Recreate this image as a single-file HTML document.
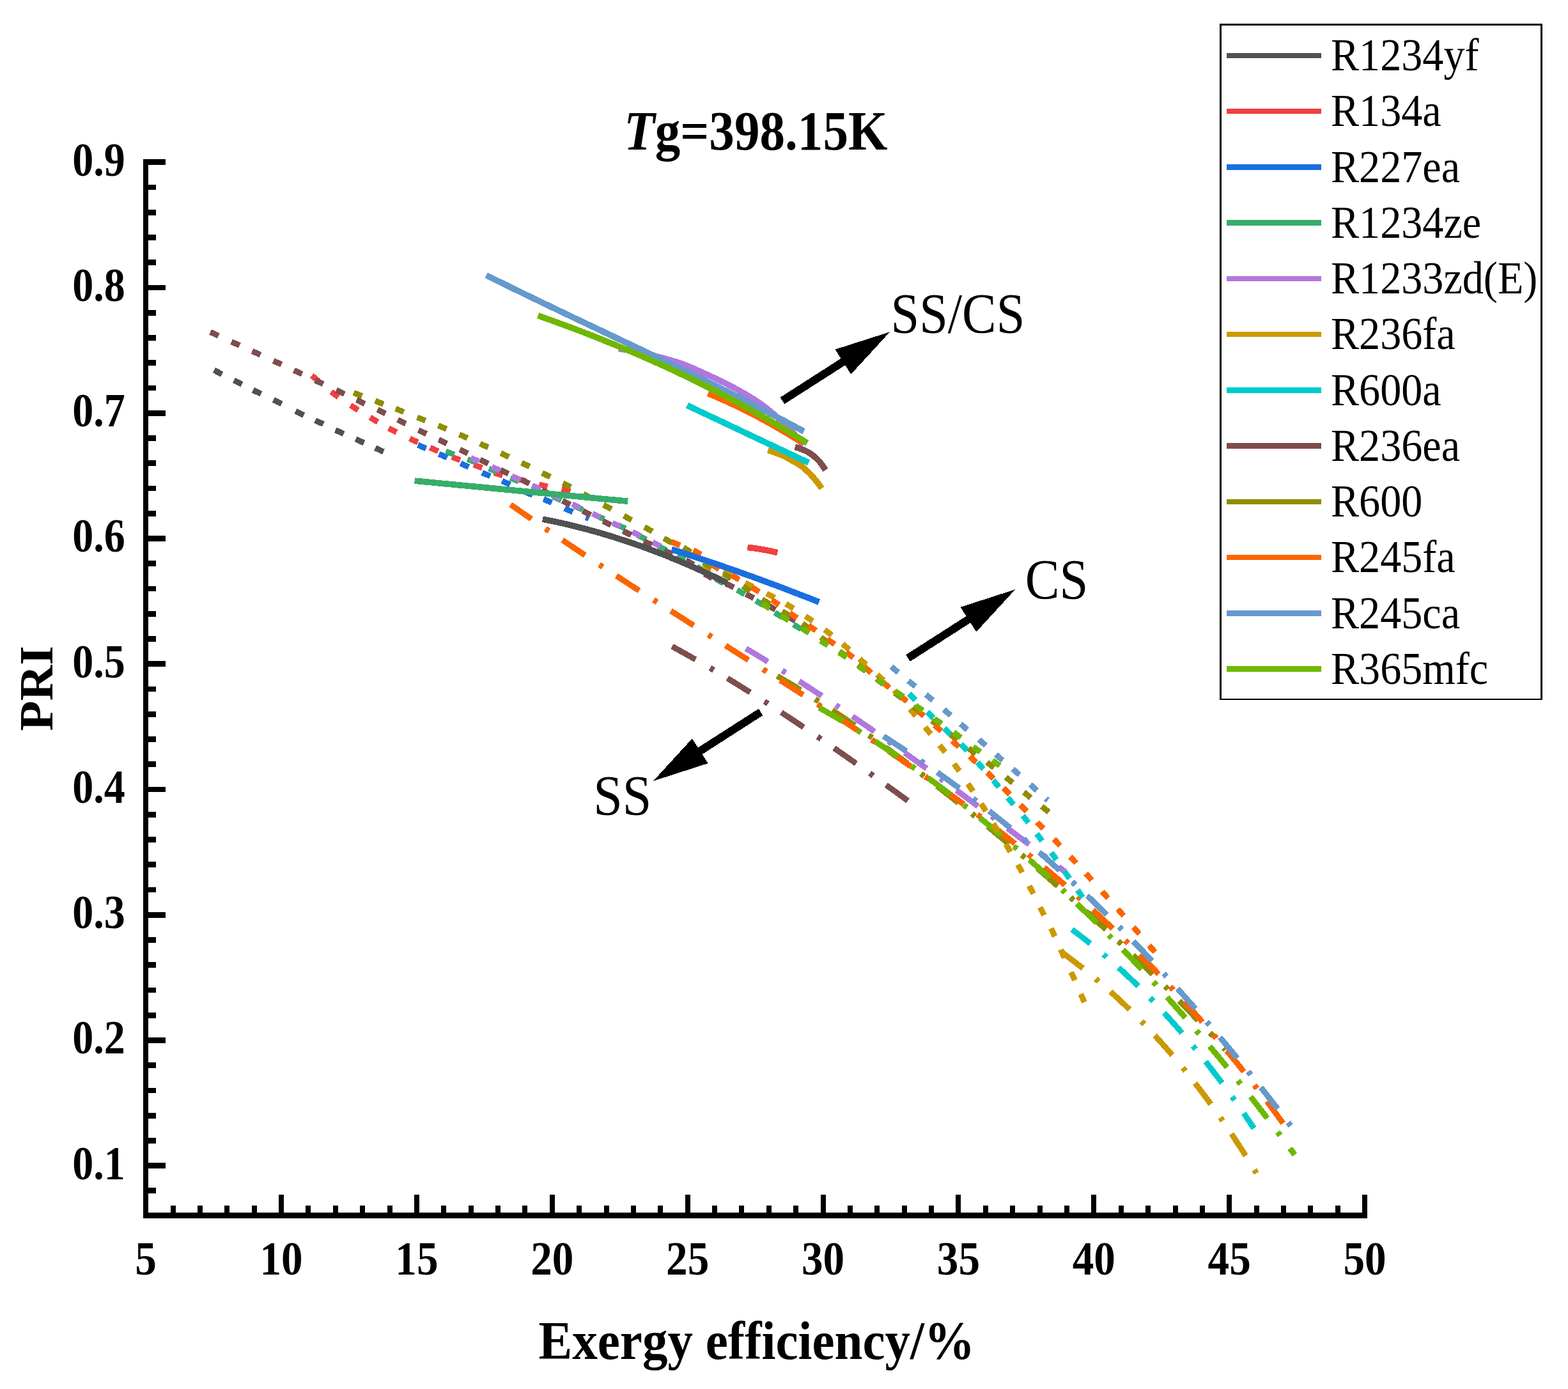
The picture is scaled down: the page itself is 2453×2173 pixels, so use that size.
<!DOCTYPE html>
<html lang="en"><head><meta charset="utf-8"><title>PRI vs Exergy efficiency</title>
<style>html,body{margin:0;padding:0;background:#fff}svg{display:block}text{font-family:"Liberation Serif","Times New Roman",serif;fill:#000}.b{font-weight:bold}</style>
</head><body>
<svg width="2453" height="2173" viewBox="0 0 2453 2173">
<rect width="2453" height="2173" fill="#fff"/>
<g id="data" transform="scale(1.000 1)" shape-rendering="crispEdges">
<g id="ss">
<path d="M1167.0 1014.6L1176.8 1020.4L1186.6 1026.3L1196.4 1032.2L1206.2 1038.2L1216.0 1044.2L1225.8 1050.3L1235.7 1056.4L1245.5 1062.6L1255.3 1068.9L1265.1 1075.2L1274.9 1081.6L1284.7 1088.0L1294.5 1094.5L1304.3 1101.0L1314.1 1107.5L1323.9 1114.1L1333.7 1120.8L1343.5 1127.5L1353.3 1134.2L1363.2 1141.0L1373.0 1147.8L1382.8 1154.6L1392.6 1161.5L1402.4 1168.5L1412.2 1175.4L1422.0 1182.4L1431.8 1189.4L1441.6 1196.5L1451.4 1203.6L1461.2 1210.7L1471.0 1217.8L1480.9 1225.0L1490.7 1232.2L1500.5 1239.4L1510.3 1246.6L1520.1 1253.9L1529.9 1261.2L1539.7 1268.5L1549.5 1275.8L1559.3 1283.1L1569.1 1290.5L1578.9 1297.8L1588.7 1305.2L1598.5 1312.6L1608.4 1320.0L1618.2 1327.4L1628.0 1334.8L1637.8 1342.2L1647.6 1349.7L1657.4 1357.1L1667.2 1364.5" fill="none" stroke="#B177DE" stroke-width="9.0" stroke-dasharray="41.96 26.40 6.50 24.92" stroke-dashoffset="2.0" stroke-linejoin="round"/>
<path d="M1662.3 1490.7L1672.1 1497.9L1681.9 1505.4L1691.7 1513.0L1701.4 1520.8L1711.2 1528.9L1721.0 1537.2L1730.8 1545.7L1740.6 1554.4L1750.4 1563.4L1760.1 1572.6L1769.9 1582.0L1779.7 1591.8L1789.5 1601.8L1799.3 1612.0L1809.1 1622.6L1818.8 1633.4L1828.6 1644.5L1838.4 1656.0L1848.2 1667.7L1858.0 1679.8L1867.8 1692.2L1877.5 1704.9L1887.3 1717.9L1897.1 1731.3L1906.9 1745.1L1916.7 1759.2L1926.5 1773.7L1936.2 1788.5L1946.0 1803.7L1955.8 1819.3L1965.6 1835.4" fill="none" stroke="#CC9900" stroke-width="9.0" stroke-dasharray="41.02 25.81 6.36 24.36" stroke-dashoffset="1.0" stroke-linejoin="round"/>
<path d="M1677.0 1454.2L1686.8 1461.5L1696.6 1469.0L1706.5 1476.8L1716.3 1484.8L1726.1 1493.0L1735.9 1501.4L1745.7 1510.1L1755.5 1518.9L1765.4 1528.1L1775.2 1537.4L1785.0 1547.0L1794.8 1556.9L1804.6 1566.9L1814.4 1577.3L1824.3 1587.9L1834.1 1598.8L1843.9 1609.9L1853.7 1621.3L1863.5 1632.9L1873.3 1644.9L1883.2 1657.1L1893.0 1669.6L1902.8 1682.4L1912.6 1695.4L1922.4 1708.8L1932.2 1722.5L1942.1 1736.4L1951.9 1750.7L1961.7 1765.3" fill="none" stroke="#00CBCC" stroke-width="9.0" stroke-dasharray="42.17 26.53 6.53 25.05" stroke-dashoffset="6.0" stroke-linejoin="round"/>
<path d="M1051.5 1011.3L1061.3 1016.7L1071.0 1022.1L1080.8 1027.6L1090.5 1033.1L1100.3 1038.7L1110.0 1044.4L1119.8 1050.2L1129.6 1056.0L1139.3 1061.9L1149.1 1067.9L1158.8 1073.9L1168.6 1080.0L1178.4 1086.1L1188.1 1092.3L1197.9 1098.6L1207.6 1104.9L1217.4 1111.2L1227.1 1117.7L1236.9 1124.1L1246.7 1130.6L1256.4 1137.2L1266.2 1143.8L1275.9 1150.4L1285.7 1157.1L1295.4 1163.8L1305.2 1170.6L1315.0 1177.4L1324.7 1184.2L1334.5 1191.1L1344.2 1198.0L1354.0 1204.9L1363.8 1211.9L1373.5 1218.9L1383.3 1225.9L1393.0 1233.0L1402.8 1240.0L1412.5 1247.1L1422.3 1254.2" fill="none" stroke="#7D4E4E" stroke-width="9.0" stroke-dasharray="41.96 26.40 6.50 24.92" stroke-dashoffset="0.0" stroke-linejoin="round"/>
<path d="M1215.9 1057.6L1225.8 1063.4L1235.6 1069.2L1245.5 1075.1L1255.4 1081.2L1265.3 1087.3L1275.1 1093.6L1285.0 1099.9L1294.9 1106.4L1304.8 1112.9L1314.6 1119.5L1324.5 1126.2L1334.4 1132.9L1344.3 1139.8L1354.1 1146.7L1364.0 1153.7L1373.9 1160.8L1383.8 1167.9L1393.6 1175.1L1403.5 1182.4L1413.4 1189.7L1423.3 1197.1L1433.1 1204.5L1443.0 1212.1L1452.9 1219.6L1462.8 1227.3L1472.6 1234.9L1482.5 1242.7L1492.4 1250.5L1502.3 1258.3L1512.1 1266.2L1522.0 1274.2L1531.9 1282.2L1541.8 1290.2L1551.6 1298.3L1561.5 1306.5L1571.4 1314.7L1581.3 1323.0L1591.1 1331.3L1601.0 1339.7L1610.9 1348.1L1620.8 1356.5L1630.6 1365.1L1640.5 1373.7L1650.4 1382.3L1660.3 1391.0L1670.1 1399.7L1680.0 1408.5L1689.9 1417.4L1699.8 1426.3L1709.6 1435.3L1719.5 1444.4L1729.4 1453.5L1739.3 1462.7L1749.1 1471.9L1759.0 1481.3L1768.9 1490.7L1778.8 1500.1L1788.6 1509.7L1798.5 1519.3L1808.4 1529.0L1818.3 1538.8L1828.1 1548.7L1838.0 1558.7L1847.9 1568.8L1857.8 1579.0L1867.6 1589.3L1877.5 1599.6L1887.4 1610.1L1897.3 1620.7L1907.1 1631.4L1917.0 1642.3" fill="none" stroke="#8E8E00" stroke-width="9.0" stroke-dasharray="42.60 26.80 6.60 25.30" stroke-dashoffset="0.0" stroke-linejoin="round"/>
<path d="M798.7 789.4L808.7 796.3L818.7 803.2L828.7 810.1L838.7 817.0L848.7 823.8L858.7 830.6L868.6 837.4L878.6 844.1L888.6 850.8L898.6 857.5L908.6 864.2L918.6 870.8L928.6 877.4L938.6 884.0L948.6 890.6L958.6 897.1L968.6 903.6L978.6 910.1L988.5 916.6L998.5 923.0L1008.5 929.5L1018.5 935.9L1028.5 942.3L1038.5 948.7L1048.5 955.1L1058.5 961.4L1068.5 967.8L1078.5 974.2L1088.5 980.5L1098.5 986.8L1108.4 993.2L1118.4 999.5L1128.4 1005.8L1138.4 1012.1L1148.4 1018.4L1158.4 1024.8L1168.4 1031.1L1178.4 1037.4L1188.4 1043.8L1198.4 1050.1L1208.4 1056.4L1218.4 1062.8L1228.3 1069.2L1238.3 1075.5L1248.3 1081.9L1258.3 1088.3L1268.3 1094.8L1278.3 1101.2L1288.3 1107.7L1298.3 1114.2L1308.3 1120.7L1318.3 1127.2L1328.3 1133.8L1338.3 1140.4L1348.2 1147.0L1358.2 1153.7L1368.2 1160.3L1378.2 1167.1L1388.2 1173.8L1398.2 1180.6L1408.2 1187.5L1418.2 1194.4L1428.2 1201.3L1438.2 1208.3L1448.2 1215.3L1458.2 1222.4L1468.1 1229.5L1478.1 1236.7L1488.1 1243.9L1498.1 1251.2L1508.1 1258.6L1518.1 1266.0L1528.1 1273.5L1538.1 1281.0L1548.1 1288.7L1558.1 1296.4L1568.1 1304.1L1578.1 1312.0L1588.0 1319.9L1598.0 1327.9L1608.0 1336.0L1618.0 1344.2L1628.0 1352.5L1638.0 1360.8L1648.0 1369.3L1658.0 1377.8L1668.0 1386.5L1678.0 1395.2L1688.0 1404.0L1698.0 1413.0L1707.9 1422.1L1717.9 1431.2L1727.9 1440.5L1737.9 1449.9L1747.9 1459.4L1757.9 1469.1L1767.9 1478.8L1777.9 1488.7L1787.9 1498.7L1797.9 1508.9L1807.9 1519.2L1817.9 1529.6L1827.8 1540.1L1837.8 1550.9L1847.8 1561.7L1857.8 1572.7L1867.8 1583.9L1877.8 1595.2L1887.8 1606.7L1897.8 1618.3L1907.8 1630.1L1917.8 1642.1L1927.8 1654.2L1937.8 1666.5L1947.7 1679.0L1957.7 1691.7L1967.7 1704.5L1977.7 1717.6L1987.7 1730.8L1997.7 1744.2L2007.7 1757.9" fill="none" stroke="#FB6501" stroke-width="9.0" stroke-dasharray="42.60 26.80 6.60 25.30" stroke-dashoffset="3.0" stroke-linejoin="round"/>
<path d="M1382.2 1151.8L1392.2 1158.2L1402.1 1164.7L1412.1 1171.2L1422.0 1177.8L1432.0 1184.5L1441.9 1191.3L1451.9 1198.2L1461.9 1205.2L1471.8 1212.2L1481.8 1219.3L1491.7 1226.6L1501.7 1233.9L1511.6 1241.3L1521.6 1248.8L1531.5 1256.4L1541.5 1264.1L1551.5 1271.9L1561.4 1279.8L1571.4 1287.8L1581.3 1295.9L1591.3 1304.1L1601.2 1312.5L1611.2 1320.9L1621.2 1329.4L1631.1 1338.0L1641.1 1346.7L1651.0 1355.6L1661.0 1364.5L1670.9 1373.6L1680.9 1382.7L1690.8 1392.0L1700.8 1401.4L1710.8 1410.8L1720.7 1420.4L1730.7 1430.2L1740.6 1440.0L1750.6 1449.9L1760.5 1460.0L1770.5 1470.1L1780.5 1480.4L1790.4 1490.8L1800.4 1501.3L1810.3 1511.9L1820.3 1522.6L1830.2 1533.5L1840.2 1544.5L1850.1 1555.5L1860.1 1566.7L1870.1 1578.0L1880.0 1589.5L1890.0 1601.0L1899.9 1612.7L1909.9 1624.4L1919.8 1636.3L1929.8 1648.3L1939.8 1660.4L1949.7 1672.7L1959.7 1685.0L1969.6 1697.5L1979.6 1710.1L1989.5 1722.7L1999.5 1735.5L2009.4 1748.5L2019.4 1761.5" fill="none" stroke="#6699CC" stroke-width="9.0" stroke-dasharray="42.60 26.80 6.60 25.30" stroke-dashoffset="0.0" stroke-linejoin="round"/>
<path d="M1281.5 1107.1L1291.4 1112.7L1301.3 1118.4L1311.3 1124.2L1321.2 1130.1L1331.1 1136.1L1341.0 1142.2L1350.9 1148.4L1360.9 1154.7L1370.8 1161.1L1380.7 1167.6L1390.6 1174.2L1400.5 1180.9L1410.5 1187.7L1420.4 1194.5L1430.3 1201.5L1440.2 1208.6L1450.1 1215.8L1460.1 1223.0L1470.0 1230.4L1479.9 1237.9L1489.8 1245.4L1499.7 1253.1L1509.7 1260.8L1519.6 1268.7L1529.5 1276.6L1539.4 1284.7L1549.3 1292.8L1559.3 1301.0L1569.2 1309.4L1579.1 1317.8L1589.0 1326.3L1598.9 1334.9L1608.9 1343.7L1618.8 1352.5L1628.7 1361.4L1638.6 1370.4L1648.5 1379.5L1658.5 1388.8L1668.4 1398.1L1678.3 1407.5L1688.2 1417.0L1698.1 1426.7L1708.1 1436.4L1718.0 1446.2L1727.9 1456.2L1737.8 1466.2L1747.7 1476.3L1757.7 1486.6L1767.6 1497.0L1777.5 1507.4L1787.4 1518.0L1797.3 1528.7L1807.3 1539.5L1817.2 1550.4L1827.1 1561.4L1837.0 1572.5L1846.9 1583.8L1856.9 1595.1L1866.8 1606.6L1876.7 1618.2L1886.6 1629.9L1896.5 1641.7L1906.5 1653.7L1916.4 1665.7L1926.3 1677.9L1936.2 1690.2L1946.1 1702.6L1956.1 1715.2L1966.0 1727.9L1975.9 1740.7L1985.8 1753.6L1995.7 1766.7L2005.7 1779.9L2015.6 1793.3L2025.5 1806.7" fill="none" stroke="#6FB802" stroke-width="9.0" stroke-dasharray="42.73 26.88 6.62 25.38" stroke-dashoffset="0.0" stroke-linejoin="round"/>
</g>
<g id="cs">
<path d="M334.9 579.1L347.3 585.5M366.0 595.0L378.4 601.4M395.9 610.2L408.5 616.4M427.8 625.6L440.4 631.8M462.5 643.2L475.1 649.4M493.1 657.5L505.7 663.5M524.8 672.8L537.6 678.6M556.6 687.0L569.4 692.8M587.1 700.9L599.9 706.7" fill="none" stroke="#515151" stroke-width="9.0"/>
<path d="M487.8 587.6L498.6 596.4M518.2 612.8L529.4 621.2M548.5 634.0L560.3 641.6M579.0 653.0L591.0 660.2M608.1 670.0L620.5 676.4M641.0 686.2L653.8 692.0M672.8 700.3L685.6 705.9M706.9 714.8L719.9 719.8M741.1 727.1L754.3 731.9M772.8 739.6L786.2 743.8M808.0 748.9L821.5 752.4M843.2 758.0L856.8 761.2M878.6 765.5L892.4 768.3" fill="none" stroke="#F14040" stroke-width="9.0"/>
<path d="M653.7 696.1L666.5 701.7M686.7 710.3L699.5 715.9M720.5 725.0L733.3 730.6M754.2 739.5L767.0 744.9M785.3 752.3L798.1 758.1M820.4 769.0L833.2 774.6M850.2 780.9L863.2 786.3M883.3 795.4L896.1 801.0M916.5 809.5L921.1 811.5" fill="none" stroke="#1A6FDF" stroke-width="9.0"/>
<path d="M697.5 706.3L710.7 711.1M731.4 718.4L744.4 723.6M765.0 732.9L777.8 738.5M798.5 747.6L811.3 753.2M831.9 762.3L844.8 768.0M865.4 777.0L878.3 782.7M898.9 791.8L911.7 797.4M932.4 806.5L945.2 812.1M966.0 821.0L978.6 827.0M998.4 837.5L1010.8 843.9M1029.6 854.2L1042.2 860.4M1060.1 867.6L1072.3 874.4M1090.2 886.3L1101.9 893.9M1119.8 905.7L1132.0 912.7M1153.1 923.0L1165.3 929.8M1182.5 939.8L1194.5 947.0M1212.0 958.3L1223.8 965.7M1241.4 976.9L1253.2 984.3" fill="none" stroke="#37AD6B" stroke-width="9.0"/>
<path d="M736.4 716.5L749.2 721.9M769.4 730.4L782.2 736.0M800.9 744.9L813.6 750.8M832.4 759.5L845.0 765.5M863.8 774.2L876.5 780.1M895.3 788.8L907.9 794.8M926.7 803.5L939.4 809.4M958.1 818.2L970.9 824.0M989.5 832.4L1002.1 838.4M1020.9 848.2L1033.3 854.6" fill="none" stroke="#B177DE" stroke-width="9.0"/>
<path d="M1099.6 885.5L1113.0 889.7M1131.2 894.7L1144.2 900.1M1165.7 911.8L1178.1 918.2M1199.4 928.5L1211.8 934.9M1229.5 944.7L1241.5 951.9M1260.0 964.0L1271.6 971.8M1290.2 985.2L1301.4 993.6M1318.2 1007.4L1328.8 1016.4M1344.7 1030.6L1355.1 1040.0M1372.2 1055.0L1382.4 1064.6M1398.9 1080.1L1408.5 1090.3M1423.7 1109.2L1432.7 1120.0M1447.3 1137.6L1456.1 1148.4M1469.9 1165.8L1478.5 1176.8M1492.6 1195.0L1500.8 1206.4M1514.3 1226.2L1522.1 1237.8M1535.0 1257.4L1542.4 1269.2M1554.0 1288.4L1561.2 1300.4M1573.6 1320.7L1580.8 1332.7M1592.4 1352.8L1599.2 1365.0M1610.2 1386.0L1616.6 1398.4M1627.2 1419.3L1633.6 1431.7M1644.2 1452.4L1650.2 1465.0M1659.4 1485.6L1665.2 1498.4M1675.7 1520.8L1681.5 1533.6M1690.8 1555.1L1696.4 1567.9" fill="none" stroke="#CC9900" stroke-width="9.0"/>
<path d="M1422.3 1085.2L1432.1 1095.0M1450.6 1113.6L1460.6 1123.4M1477.0 1139.1L1487.0 1148.9M1503.5 1164.4L1513.3 1174.4M1529.3 1192.5L1538.5 1203.1M1553.8 1220.8L1562.8 1231.4M1576.6 1247.9L1585.6 1258.7M1600.2 1276.1L1609.0 1287.1M1621.9 1304.4L1630.3 1315.6M1644.5 1333.8L1652.7 1345.0M1665.2 1363.0L1673.2 1374.4M1685.7 1392.4L1693.7 1403.8" fill="none" stroke="#00CBCC" stroke-width="9.0"/>
<path d="M329.1 519.4L341.9 525.2M362.1 534.6L374.9 540.4M394.6 549.3L407.4 555.1M427.7 564.4L440.5 570.2M460.0 579.3L472.6 585.3M493.1 594.9L505.7 600.9M526.1 610.3L538.7 616.3M557.9 625.7L570.5 631.7M590.4 640.9L603.0 646.9M622.2 656.7L634.8 662.9M654.5 672.6L667.1 678.8M686.3 687.9L698.9 693.9M719.3 703.3L731.9 709.3M751.1 719.1L763.7 725.3M782.9 734.9L795.5 741.1M815.7 750.4L828.3 756.6M847.8 766.8L860.2 773.2M879.8 783.3L892.2 789.7M911.5 799.3L924.1 805.5M943.3 815.2L955.9 821.4M974.8 830.7L987.4 836.9M1007.1 846.5L1019.7 852.5M1039.3 861.2L1052.1 867.0M1073.0 876.2L1085.0 883.4M1102.2 897.8L1114.4 904.8M1135.3 912.9L1147.9 919.1M1166.7 929.4L1179.1 935.8M1200.9 947.0L1213.3 953.6M1232.3 964.5L1244.5 971.3" fill="none" stroke="#7D4E4E" stroke-width="9.0"/>
<path d="M553.2 614.5L566.4 619.5M587.0 627.2L600.0 632.2M618.8 639.3L631.8 644.5M652.6 652.8L665.6 658.0M685.6 665.7L698.6 671.1M718.5 679.7L731.3 685.3M751.0 694.1L763.8 699.9M783.3 709.0L796.1 714.8M816.1 724.0L828.7 730.0M848.2 739.9L860.8 746.1M880.6 755.7L893.0 762.1M912.4 772.7L924.8 779.3M944.2 789.8L956.6 796.4M975.9 806.9L988.1 813.7M1008.3 824.6L1020.5 831.4M1038.5 842.3L1050.9 848.9M1069.0 856.5L1081.0 863.9M1100.4 879.9L1112.2 887.5M1131.7 897.7L1143.7 904.9M1162.2 917.0L1173.8 924.8M1192.4 937.6L1204.2 945.2M1223.6 956.4L1235.6 963.6M1255.2 975.6L1266.8 983.6M1284.3 997.1L1295.5 1005.5M1313.2 1018.8L1324.4 1027.2M1342.1 1040.5L1353.3 1048.9M1371.0 1062.2L1382.2 1070.6M1399.8 1084.0L1411.0 1092.4M1428.7 1105.7L1439.9 1114.1M1457.6 1127.4L1468.8 1135.8M1486.5 1149.1L1497.7 1157.5M1515.4 1170.8L1526.6 1179.2M1544.0 1192.5L1555.0 1201.1M1573.5 1215.9L1584.3 1224.7M1601.8 1239.3L1612.6 1248.1M1629.8 1261.6L1640.8 1270.4" fill="none" stroke="#8E8E00" stroke-width="9.0"/>
<path d="M1050.9 847.9L1063.9 853.1M1084.7 860.6L1096.7 867.6M1113.1 882.9L1124.9 890.5M1144.3 899.8L1156.5 906.8M1175.8 918.6L1187.6 926.0M1207.2 938.5L1218.8 946.3M1235.7 959.0L1247.1 967.0M1265.0 978.5L1276.4 986.5M1294.3 999.9L1305.7 1008.1M1323.8 1020.4L1335.0 1028.8M1352.3 1043.5L1363.1 1052.5M1380.7 1067.1L1391.5 1075.9M1408.1 1088.6L1418.9 1097.4M1434.6 1111.1L1445.2 1120.1M1462.0 1134.4L1472.6 1143.6M1489.5 1158.8L1499.9 1168.2M1516.9 1183.3L1527.3 1192.7M1544.4 1208.6L1554.6 1218.2M1570.0 1233.0L1580.0 1242.8M1596.5 1259.3L1606.3 1269.3M1622.6 1286.4L1632.4 1296.4M1648.7 1312.7L1658.3 1322.9M1674.1 1340.1L1683.7 1350.3M1698.7 1366.5L1708.1 1376.9M1724.1 1394.8L1733.5 1405.2M1748.7 1422.1L1757.9 1432.7M1773.2 1450.5L1782.4 1461.1M1797.6 1478.9L1806.8 1489.5" fill="none" stroke="#FB6501" stroke-width="9.0"/>
<path d="M1394.4 1043.0L1405.2 1052.0M1421.1 1065.2L1432.1 1074.0M1448.6 1086.7L1459.4 1095.5M1476.7 1110.1L1487.3 1119.1M1502.7 1132.5L1513.3 1141.7M1531.5 1157.0L1542.1 1166.2M1557.9 1180.4L1568.5 1189.6M1584.3 1203.0L1594.9 1212.2M1611.8 1227.3L1622.2 1236.7M1636.1 1249.3L1639.1 1251.9" fill="none" stroke="#6699CC" stroke-width="9.0"/>
<path d="M1192.4 944.6L1204.2 952.0M1221.7 963.2L1233.7 970.6M1254.1 982.7L1265.9 990.3M1283.4 1002.2L1295.2 1009.8M1312.8 1020.7L1324.4 1028.5M1343.2 1042.1L1354.6 1050.1M1372.5 1062.7L1384.1 1070.5M1401.8 1082.2L1413.4 1090.2M1432.3 1103.7L1443.7 1111.7M1461.6 1124.3L1473.0 1132.3M1491.9 1145.7L1503.3 1153.9M1522.3 1168.2L1533.7 1176.4M1552.6 1189.7L1564.0 1197.9" fill="none" stroke="#6FB802" stroke-width="9.0"/>
</g>
<g id="sscs">
<path d="M848.9 812.1L858.9 814.1L868.8 816.2L878.8 818.4L888.7 820.7L898.7 823.1L908.6 825.6L918.6 828.2L928.5 830.9L938.5 833.7L948.5 836.7L958.4 839.7L968.4 842.9L978.3 846.1L988.3 849.4L998.2 852.9L1008.2 856.4L1018.1 860.1L1028.1 863.9L1038.0 867.7L1048.0 871.7L1058.0 875.8L1067.9 880.0L1077.9 884.2L1087.8 888.6L1097.8 893.1L1107.7 897.7L1117.7 902.4L1127.6 907.2L1137.6 912.1" fill="none" stroke="#515151" stroke-width="9.6" stroke-linejoin="round"/>
<path d="M1169.4 856.3L1178.8 857.5L1188.2 858.9L1197.5 860.5L1206.9 862.4L1216.3 864.5" fill="none" stroke="#F14040" stroke-width="9.6" stroke-linejoin="round"/>
<path d="M1050.6 859.3L1060.2 862.4L1069.8 865.5L1079.5 868.6L1089.1 871.8L1098.7 875.0L1108.3 878.3L1117.9 881.5L1127.6 884.8L1137.2 888.2L1146.8 891.5L1156.4 894.9L1166.0 898.4L1175.7 901.8L1185.3 905.3L1194.9 908.9L1204.5 912.4L1214.2 916.0L1223.8 919.6L1233.4 923.3L1243.0 927.0L1252.6 930.7L1262.3 934.4L1271.9 938.2L1281.5 942.0" fill="none" stroke="#1A6FDF" stroke-width="9.6" stroke-linejoin="round"/>
<path d="M648.6 752.2L658.4 753.1L668.2 754.1L678.0 755.0L687.8 756.0L697.7 756.9L707.5 757.8L717.3 758.8L727.1 759.7L736.9 760.7L746.7 761.6L756.5 762.5L766.3 763.5L776.2 764.4L786.0 765.4L795.8 766.3L805.6 767.3L815.4 768.2L825.2 769.1L835.0 770.1L844.8 771.0L854.6 772.0L864.5 772.9L874.3 773.9L884.1 774.8L893.9 775.7L903.7 776.7L913.5 777.6L923.3 778.6L933.1 779.5L943.0 780.5L952.8 781.4L962.6 782.3L972.4 783.3L982.2 784.2" fill="none" stroke="#37AD6B" stroke-width="9.6" stroke-linejoin="round"/>
<path d="M967.3 545.4L972.3 546.2L977.3 547.1L982.2 547.9L987.2 548.9L992.2 549.9L997.2 550.9L1002.2 551.9L1007.2 553.0L1012.1 554.1L1017.1 555.3L1022.1 556.5L1027.1 557.7L1032.1 558.9L1037.1 560.2L1042.0 561.6L1047.0 563.0L1052.0 564.5L1057.0 566.0L1062.0 567.6L1067.0 569.3L1071.9 571.1L1076.9 573.1L1081.9 575.2L1086.9 577.3L1091.9 579.6L1096.9 581.9L1101.8 584.2L1106.8 586.4L1111.8 588.7L1116.8 591.0L1121.8 593.4L1126.7 595.8L1131.7 598.2L1136.7 600.7L1141.7 603.3L1146.7 605.9L1151.7 608.5L1156.6 611.3L1161.6 614.1L1166.6 616.9L1171.6 619.9L1176.6 623.0L1181.6 626.1L1186.5 629.4L1191.5 632.9L1196.5 636.6L1201.5 640.5L1206.5 644.6L1211.5 648.9L1216.4 653.3L1221.4 657.9L1226.4 662.5L1231.4 667.4L1236.4 672.4L1241.4 677.8L1246.3 683.6L1251.3 690.1L1256.3 697.1" fill="none" stroke="#B177DE" stroke-width="9.6" stroke-linejoin="round"/>
<path d="M1201.5 704.2L1206.4 705.9L1211.4 707.6L1216.3 709.5L1221.3 711.3L1226.2 713.3L1231.1 715.9L1236.1 718.8L1241.0 721.5L1246.0 724.3L1250.9 727.3L1255.9 730.9L1260.8 735.1L1265.7 739.8L1270.7 745.0L1275.6 750.7L1280.6 757.1L1285.5 764.0" fill="none" stroke="#CC9900" stroke-width="9.6" stroke-linejoin="round"/>
<path d="M1075.1 634.2L1085.1 639.0L1095.1 643.7L1105.1 648.4L1115.1 653.1L1125.1 657.8L1135.1 662.5L1145.1 667.3L1155.1 672.0L1165.1 676.7L1175.0 681.4L1185.0 686.1L1195.0 690.8L1205.0 695.6L1215.0 700.3L1225.0 705.0L1235.0 709.7L1245.0 714.4L1255.0 719.1L1265.0 723.9" fill="none" stroke="#00CBCC" stroke-width="9.6" stroke-linejoin="round"/>
<path d="M1243.7 699.4L1248.5 700.7L1253.2 702.4L1258.0 704.4L1262.8 706.7L1267.6 709.5L1272.3 712.9L1277.1 717.0L1281.9 722.0L1286.6 728.1L1291.4 735.4" fill="none" stroke="#7D4E4E" stroke-width="9.6" stroke-linejoin="round"/>
<path d="M1107.6 615.6L1117.5 619.7L1127.3 623.9L1137.2 628.3L1147.0 632.9L1156.9 637.6L1166.7 642.4L1176.6 647.4L1186.4 652.6L1196.3 657.9L1206.1 663.4L1216.0 669.0L1225.8 674.7L1235.7 680.6L1245.5 686.7L1255.4 692.9" fill="none" stroke="#FB6501" stroke-width="9.6" stroke-linejoin="round"/>
<path d="M760.8 430.6L770.7 435.5L780.7 440.5L790.6 445.3L800.5 450.2L810.5 455.1L820.4 459.9L830.3 464.7L840.3 469.5L850.2 474.3L860.1 479.1L870.1 483.8L880.0 488.6L889.9 493.3L899.9 498.1L909.8 502.8L919.7 507.5L929.7 512.2L939.6 516.9L949.5 521.6L959.5 526.3L969.4 531.1L979.3 535.8L989.3 540.5L999.2 545.2L1009.1 550.0L1019.1 554.7L1029.0 559.5L1039.0 564.2L1048.9 569.0L1058.8 573.8L1068.8 578.6L1078.7 583.4L1088.6 588.3L1098.6 593.1L1108.5 598.0L1118.4 602.9L1128.4 607.9L1138.3 612.8L1148.2 617.8L1158.2 622.8L1168.1 627.9L1178.0 633.0L1188.0 638.1L1197.9 643.2L1207.8 648.4L1217.8 653.6L1227.7 658.9L1237.6 664.2L1247.6 669.5L1257.5 674.9" fill="none" stroke="#6699CC" stroke-width="9.6" stroke-linejoin="round"/>
<path d="M841.5 493.7L851.3 497.1L861.1 500.6L870.9 504.2L880.7 507.8L890.5 511.4L900.3 515.1L910.1 518.8L919.9 522.6L929.7 526.5L939.5 530.3L949.3 534.3L959.1 538.3L968.9 542.3L978.7 546.4L988.5 550.5L998.3 554.7L1008.1 559.0L1017.9 563.3L1027.7 567.7L1037.5 572.1L1047.3 576.6L1057.1 581.2L1066.9 585.8L1076.7 590.5L1086.5 595.3L1096.3 600.1L1106.1 605.0L1115.9 609.9L1125.7 615.0L1135.5 620.1L1145.3 625.2L1155.1 630.5L1164.9 635.8L1174.7 641.2L1184.5 646.6L1194.3 652.2L1204.1 657.8L1213.9 663.5L1223.7 669.2L1233.5 675.1L1243.3 681.0L1253.1 687.0L1262.9 693.1" fill="none" stroke="#6FB802" stroke-width="9.6" stroke-linejoin="round"/>
</g>
</g>
<g id="axes" fill="#000" shape-rendering="crispEdges">
<rect x="224.0" y="249.3" width="8.0" height="1656.7"/>
<rect x="224.0" y="1897.0" width="1915.1" height="9.0"/>
<rect x="224.0" y="1858.4" width="20.2" height="8.8"/>
<rect x="224.0" y="1819.2" width="35.0" height="8.8"/>
<rect x="224.0" y="1780.0" width="20.2" height="8.8"/>
<rect x="224.0" y="1740.7" width="20.2" height="8.8"/>
<rect x="224.0" y="1701.5" width="20.2" height="8.8"/>
<rect x="224.0" y="1662.2" width="20.2" height="8.8"/>
<rect x="224.0" y="1623.0" width="35.0" height="8.8"/>
<rect x="224.0" y="1583.7" width="20.2" height="8.8"/>
<rect x="224.0" y="1544.5" width="20.2" height="8.8"/>
<rect x="224.0" y="1505.2" width="20.2" height="8.8"/>
<rect x="224.0" y="1466.0" width="20.2" height="8.8"/>
<rect x="224.0" y="1426.7" width="35.0" height="8.8"/>
<rect x="224.0" y="1387.5" width="20.2" height="8.8"/>
<rect x="224.0" y="1348.2" width="20.2" height="8.8"/>
<rect x="224.0" y="1309.0" width="20.2" height="8.8"/>
<rect x="224.0" y="1269.7" width="20.2" height="8.8"/>
<rect x="224.0" y="1230.5" width="35.0" height="8.8"/>
<rect x="224.0" y="1191.2" width="20.2" height="8.8"/>
<rect x="224.0" y="1152.0" width="20.2" height="8.8"/>
<rect x="224.0" y="1112.7" width="20.2" height="8.8"/>
<rect x="224.0" y="1073.5" width="20.2" height="8.8"/>
<rect x="224.0" y="1034.2" width="35.0" height="8.8"/>
<rect x="224.0" y="995.0" width="20.2" height="8.8"/>
<rect x="224.0" y="955.8" width="20.2" height="8.8"/>
<rect x="224.0" y="916.5" width="20.2" height="8.8"/>
<rect x="224.0" y="877.3" width="20.2" height="8.8"/>
<rect x="224.0" y="838.0" width="35.0" height="8.8"/>
<rect x="224.0" y="798.8" width="20.2" height="8.8"/>
<rect x="224.0" y="759.5" width="20.2" height="8.8"/>
<rect x="224.0" y="720.3" width="20.2" height="8.8"/>
<rect x="224.0" y="681.0" width="20.2" height="8.8"/>
<rect x="224.0" y="641.8" width="35.0" height="8.8"/>
<rect x="224.0" y="602.5" width="20.2" height="8.8"/>
<rect x="224.0" y="563.3" width="20.2" height="8.8"/>
<rect x="224.0" y="524.0" width="20.2" height="8.8"/>
<rect x="224.0" y="484.8" width="20.2" height="8.8"/>
<rect x="224.0" y="445.5" width="35.0" height="8.8"/>
<rect x="224.0" y="406.3" width="20.2" height="8.8"/>
<rect x="224.0" y="367.0" width="20.2" height="8.8"/>
<rect x="224.0" y="327.8" width="20.2" height="8.8"/>
<rect x="224.0" y="288.5" width="20.2" height="8.8"/>
<rect x="224.0" y="249.3" width="35.0" height="8.8"/>
<rect x="266.5" y="1886.0" width="8.0" height="20.0"/>
<rect x="308.9" y="1886.0" width="8.0" height="20.0"/>
<rect x="351.2" y="1886.0" width="8.0" height="20.0"/>
<rect x="393.6" y="1886.0" width="8.0" height="20.0"/>
<rect x="436.0" y="1868.7" width="8.0" height="37.3"/>
<rect x="478.4" y="1886.0" width="8.0" height="20.0"/>
<rect x="520.7" y="1886.0" width="8.0" height="20.0"/>
<rect x="563.1" y="1886.0" width="8.0" height="20.0"/>
<rect x="605.5" y="1886.0" width="8.0" height="20.0"/>
<rect x="647.9" y="1868.7" width="8.0" height="37.3"/>
<rect x="690.3" y="1886.0" width="8.0" height="20.0"/>
<rect x="732.6" y="1886.0" width="8.0" height="20.0"/>
<rect x="775.0" y="1886.0" width="8.0" height="20.0"/>
<rect x="817.4" y="1886.0" width="8.0" height="20.0"/>
<rect x="859.8" y="1868.7" width="8.0" height="37.3"/>
<rect x="902.1" y="1886.0" width="8.0" height="20.0"/>
<rect x="944.5" y="1886.0" width="8.0" height="20.0"/>
<rect x="986.9" y="1886.0" width="8.0" height="20.0"/>
<rect x="1029.3" y="1886.0" width="8.0" height="20.0"/>
<rect x="1071.7" y="1868.7" width="8.0" height="37.3"/>
<rect x="1114.0" y="1886.0" width="8.0" height="20.0"/>
<rect x="1156.4" y="1886.0" width="8.0" height="20.0"/>
<rect x="1198.8" y="1886.0" width="8.0" height="20.0"/>
<rect x="1241.2" y="1886.0" width="8.0" height="20.0"/>
<rect x="1283.5" y="1868.7" width="8.0" height="37.3"/>
<rect x="1325.9" y="1886.0" width="8.0" height="20.0"/>
<rect x="1368.3" y="1886.0" width="8.0" height="20.0"/>
<rect x="1410.7" y="1886.0" width="8.0" height="20.0"/>
<rect x="1453.1" y="1886.0" width="8.0" height="20.0"/>
<rect x="1495.4" y="1868.7" width="8.0" height="37.3"/>
<rect x="1537.8" y="1886.0" width="8.0" height="20.0"/>
<rect x="1580.2" y="1886.0" width="8.0" height="20.0"/>
<rect x="1622.6" y="1886.0" width="8.0" height="20.0"/>
<rect x="1664.9" y="1886.0" width="8.0" height="20.0"/>
<rect x="1707.3" y="1868.7" width="8.0" height="37.3"/>
<rect x="1749.7" y="1886.0" width="8.0" height="20.0"/>
<rect x="1792.1" y="1886.0" width="8.0" height="20.0"/>
<rect x="1834.5" y="1886.0" width="8.0" height="20.0"/>
<rect x="1876.8" y="1886.0" width="8.0" height="20.0"/>
<rect x="1919.2" y="1868.7" width="8.0" height="37.3"/>
<rect x="1961.6" y="1886.0" width="8.0" height="20.0"/>
<rect x="2004.0" y="1886.0" width="8.0" height="20.0"/>
<rect x="2046.3" y="1886.0" width="8.0" height="20.0"/>
<rect x="2088.7" y="1886.0" width="8.0" height="20.0"/>
<rect x="2131.1" y="1868.7" width="8.0" height="37.3"/>
</g>
<g id="ylabels">
<text transform="translate(195.8 1844.5) scale(0.6600 0.7350)" font-size="100" class="b" text-anchor="end">0.1</text>
<text transform="translate(195.8 1648.3) scale(0.6600 0.7350)" font-size="100" class="b" text-anchor="end">0.2</text>
<text transform="translate(195.8 1452.0) scale(0.6600 0.7350)" font-size="100" class="b" text-anchor="end">0.3</text>
<text transform="translate(195.8 1255.8) scale(0.6600 0.7350)" font-size="100" class="b" text-anchor="end">0.4</text>
<text transform="translate(195.8 1059.5) scale(0.6600 0.7350)" font-size="100" class="b" text-anchor="end">0.5</text>
<text transform="translate(195.8 863.3) scale(0.6600 0.7350)" font-size="100" class="b" text-anchor="end">0.6</text>
<text transform="translate(195.8 667.1) scale(0.6600 0.7350)" font-size="100" class="b" text-anchor="end">0.7</text>
<text transform="translate(195.8 470.8) scale(0.6600 0.7350)" font-size="100" class="b" text-anchor="end">0.8</text>
<text transform="translate(195.8 274.6) scale(0.6600 0.7350)" font-size="100" class="b" text-anchor="end">0.9</text>
</g>
<g id="xlabels">
<text transform="translate(228.1 1993.6) scale(0.6720 0.7350)" font-size="100" class="b" text-anchor="middle">5</text>
<text transform="translate(440.0 1993.6) scale(0.6720 0.7350)" font-size="100" class="b" text-anchor="middle">10</text>
<text transform="translate(651.9 1993.6) scale(0.6720 0.7350)" font-size="100" class="b" text-anchor="middle">15</text>
<text transform="translate(863.8 1993.6) scale(0.6720 0.7350)" font-size="100" class="b" text-anchor="middle">20</text>
<text transform="translate(1075.7 1993.6) scale(0.6720 0.7350)" font-size="100" class="b" text-anchor="middle">25</text>
<text transform="translate(1287.5 1993.6) scale(0.6720 0.7350)" font-size="100" class="b" text-anchor="middle">30</text>
<text transform="translate(1499.4 1993.6) scale(0.6720 0.7350)" font-size="100" class="b" text-anchor="middle">35</text>
<text transform="translate(1711.3 1993.6) scale(0.6720 0.7350)" font-size="100" class="b" text-anchor="middle">40</text>
<text transform="translate(1923.2 1993.6) scale(0.6720 0.7350)" font-size="100" class="b" text-anchor="middle">45</text>
<text transform="translate(2135.1 1993.6) scale(0.6720 0.7350)" font-size="100" class="b" text-anchor="middle">50</text>
</g>
<text transform="translate(842.5 2125.9) scale(0.7906 0.8550)" font-size="100" class="b">Exergy efficiency/%</text>
<text transform="translate(82.1 1143.5) rotate(-90) scale(0.7737 0.7300)" font-size="100" class="b">PRI</text>
<text transform="translate(976.3 233.8) scale(0.7915 0.8620)" font-size="100" class="b"><tspan font-style="italic">T</tspan>g=398.15K</text>
<text transform="translate(1393.5 520.0) scale(0.8030 0.8840)" font-size="100">SS/CS</text>
<text transform="translate(1603.8 935.7) scale(0.8060 0.8820)" font-size="100">CS</text>
<text transform="translate(928.2 1273.8) scale(0.8190 0.8830)" font-size="100">SS</text>
<g id="arrows" shape-rendering="crispEdges">
<polygon points="1227.2,632.1 1327.3,568.1 1320.6,557.6 1220.6,621.7" fill="#000"/>
<polygon points="1392.2,519.2 1331.3,585.5 1318.9,566.1 1306.5,546.7" fill="#000"/>
<polygon points="1423.8,1034.8 1523.3,971.1 1516.6,960.7 1417.2,1024.4" fill="#000"/>
<polygon points="1588.2,922.2 1527.3,988.5 1514.9,969.1 1502.5,949.8" fill="#000"/>
<polygon points="1186.8,1108.8 1086.8,1172.9 1093.5,1183.3 1193.4,1119.2" fill="#000"/>
<polygon points="1022.0,1221.8 1082.8,1155.5 1095.2,1174.8 1107.7,1194.2" fill="#000"/>
</g>
<g id="legend" shape-rendering="crispEdges">
<rect x="1909.4" y="38.6" width="502.3" height="1055.4" fill="#fff" stroke="#000" stroke-width="2.8"/>
<rect x="1919.0" y="82.7" width="148.0" height="8.4" fill="#515151"/>
<text transform="translate(2081.9 110.1) scale(0.6620 0.7230)" font-size="100">R1234yf</text>
<rect x="1919.0" y="169.9" width="148.0" height="8.4" fill="#F14040"/>
<text transform="translate(2081.9 197.3) scale(0.6620 0.7230)" font-size="100">R134a</text>
<rect x="1919.0" y="257.2" width="148.0" height="8.4" fill="#1A6FDF"/>
<text transform="translate(2081.9 284.6) scale(0.6620 0.7230)" font-size="100">R227ea</text>
<rect x="1919.0" y="344.4" width="148.0" height="8.4" fill="#37AD6B"/>
<text transform="translate(2081.9 371.8) scale(0.6620 0.7230)" font-size="100">R1234ze</text>
<rect x="1919.0" y="431.7" width="148.0" height="8.4" fill="#B177DE"/>
<text transform="translate(2081.9 459.1) scale(0.6620 0.7230)" font-size="100">R1233zd(E)</text>
<rect x="1919.0" y="518.9" width="148.0" height="8.4" fill="#CC9900"/>
<text transform="translate(2081.9 546.3) scale(0.6620 0.7230)" font-size="100">R236fa</text>
<rect x="1919.0" y="606.1" width="148.0" height="8.4" fill="#00CBCC"/>
<text transform="translate(2081.9 633.5) scale(0.6620 0.7230)" font-size="100">R600a</text>
<rect x="1919.0" y="693.4" width="148.0" height="8.4" fill="#7D4E4E"/>
<text transform="translate(2081.9 720.8) scale(0.6620 0.7230)" font-size="100">R236ea</text>
<rect x="1919.0" y="780.6" width="148.0" height="8.4" fill="#8E8E00"/>
<text transform="translate(2081.9 808.0) scale(0.6620 0.7230)" font-size="100">R600</text>
<rect x="1919.0" y="867.9" width="148.0" height="8.4" fill="#FB6501"/>
<text transform="translate(2081.9 895.3) scale(0.6620 0.7230)" font-size="100">R245fa</text>
<rect x="1919.0" y="955.1" width="148.0" height="8.4" fill="#6699CC"/>
<text transform="translate(2081.9 982.5) scale(0.6620 0.7230)" font-size="100">R245ca</text>
<rect x="1919.0" y="1042.3" width="148.0" height="8.4" fill="#6FB802"/>
<text transform="translate(2081.9 1069.7) scale(0.6620 0.7230)" font-size="100">R365mfc</text>
</g>
</svg></body></html>
